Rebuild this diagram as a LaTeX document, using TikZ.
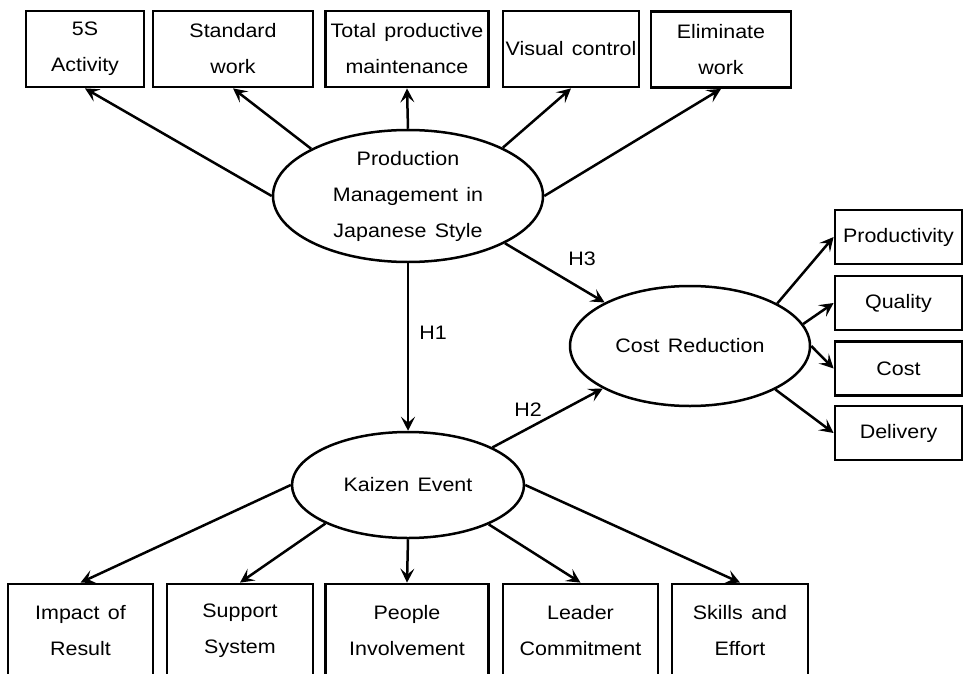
\documentclass[tikz,border=0pt]{standalone}
\usepackage{fontspec}
\setmainfont[FakeStretch=1.1,WordSpace=1.4]{Liberation Sans}
\usetikzlibrary{arrows.meta,shapes.geometric}
\begin{document}
\begin{tikzpicture}[x=1pt,y=-1pt,
  every node/.style={font=\fontsize{19.5}{36}\selectfont, inner sep=0pt},
  box/.style={draw, line width=2.8pt, align=center, minimum height=76pt},
  lowbox/.style={draw, line width=2.8pt, align=center, minimum height=93pt},
  sidebox/.style={draw, line width=2.8pt, align=center, minimum height=54pt, minimum width=127pt},
  oval/.style={draw, ellipse, line width=2.5pt, align=center},
  arr/.style={-{Stealth[length=14pt,width=14pt,inset=6pt]}, line width=2.5pt}]
\useasboundingbox (0,0) rectangle (963,674);
\clip (0,0) rectangle (963,674);

% central constructs
\node[oval, minimum width=270pt, minimum height=132pt] (pm) at (408,196) {Production\\Management in\\Japanese Style};
\node[oval, minimum width=232pt, minimum height=106pt] (kz) at (408,485) {Kaizen Event};
\node[oval, minimum width=240pt, minimum height=120pt] (cr) at (690,346) {Cost Reduction};

% top boxes
\node[box, minimum width=118pt] (b1) at (85,49) {5S\\Activity};
\node[box, minimum width=160pt] (b2) at (233,49) {Standard\\work};
\node[box, minimum width=163pt] (b3) at (407,49) {Total productive\\maintenance};
\node[box, minimum width=136pt] (b4) at (571,49) {Visual control};
\node[box, minimum width=140pt] (b5) at (721,49.5) {Eliminate\\work};

% bottom boxes
\node[lowbox, minimum width=145pt] (c1) at (80.5,630.5) {Impact of\\Result};
\node[lowbox, minimum width=146pt] (c2) at (240,630.5) {Support\\System};
\node[lowbox, minimum width=163pt] (c3) at (407,630.5) {People\\Involvement};
\node[lowbox, minimum width=155pt] (c4) at (580.5,630.5) {Leader\\Commitment};
\node[lowbox, minimum width=136pt] (c5) at (740,630.5) {Skills and\\Effort};

% right boxes
\node[sidebox] (r1) at (898.5,237) {Productivity};
\node[sidebox] (r2) at (898.5,303) {Quality};
\node[sidebox] (r3) at (898.5,368.5) {Cost};
\node[sidebox] (r4) at (898.5,433) {Delivery};

% hypothesis labels
\node (h1) at (433,333) {H1};
\node (h2) at (528,410) {H2};
\node (h3) at (582,259) {H3};

% arrows from production management
\draw[arr] (pm.west) -- (b1.south);
\draw[arr] (pm.154) -- (b2.south);
\draw[arr] (pm.north) -- (b3.south);
\draw[arr] (pm.27) -- (b4.south);
\draw[arr] (pm.east) -- (b5.south);

% hypotheses
\draw[arr] (pm.south) -- (kz.north);
\draw[arr] (pm.-26) -- (cr.153.7);
\draw[arr] (kz.24.3) -- (cr.206.3);

% arrows from kaizen
\draw[arr] (kz.west) -- (c1.north);
\draw[arr] (kz.205.7) -- (c2.north);
\draw[arr] (kz.south) -- (c3.north);
\draw[arr] (kz.-26) -- (c4.north);
\draw[arr] (kz.east) -- (c5.north);

% arrows from cost reduction
\draw[arr] (cr.26.8) -- (r1.west);
\draw[arr] (cr.11.5) -- (r2.west);
\draw[arr] (cr.east) -- (r3.west);
\draw[arr] (cr.-27) -- (r4.west);
\end{tikzpicture}
\end{document}
